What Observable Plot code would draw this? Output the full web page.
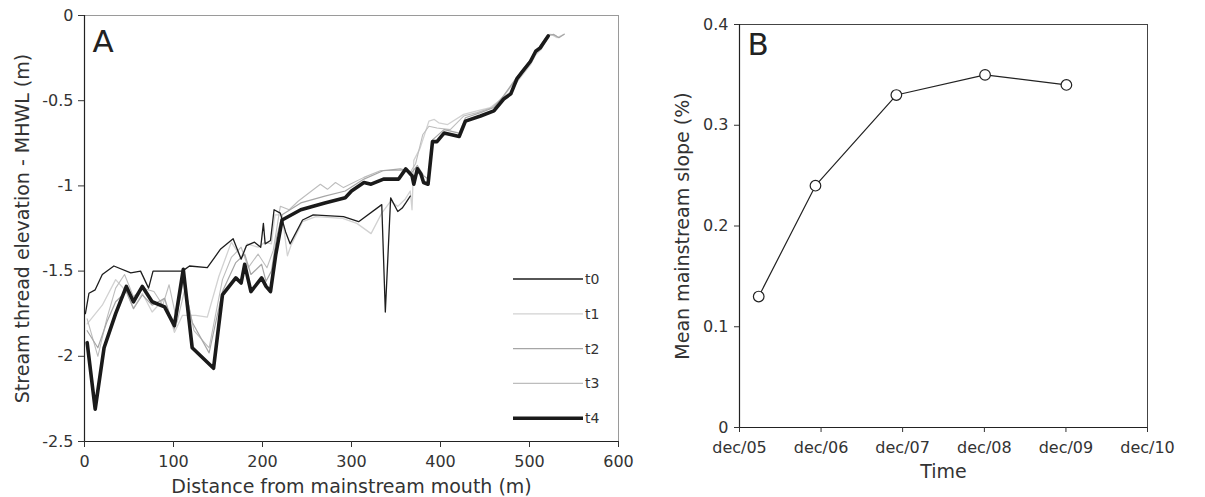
<!DOCTYPE html>
<html>
<head>
<meta charset="utf-8">
<script src="https://cdn.jsdelivr.net/npm/d3@7"></script>
<script src="https://cdn.jsdelivr.net/npm/@observablehq/plot@0.6"></script>
<style>
  html, body { margin: 0; padding: 0; background: #fff; }
  #wrap { position: relative; width: 1205px; height: 497px; overflow: hidden; font-family: "DejaVu Sans", sans-serif; }
  #wrap > svg, #wrap > div { position: absolute; top: 0; }
</style>
</head>
<body>
<div id="wrap"></div>
<script>
// ---------- Panel A data: distance (m), elevation (m) ----------
const t0 = [[1,-1.75],[5,-1.63],[12,-1.61],[20,-1.52],[33,-1.47],[52,-1.51],[63,-1.50],[72,-1.60],[77,-1.50],[110,-1.50],[118,-1.47],[138,-1.48],[153,-1.37],[167,-1.31],[176,-1.43],[182,-1.35],[191,-1.33],[198,-1.36],[201,-1.22],[203,-1.34],[209,-1.32],[213,-1.14],[220,-1.16],[226,-1.27],[231,-1.34],[245,-1.20],[257,-1.17],[291,-1.18],[308,-1.21],[334,-1.11],[338,-1.74],[344,-1.07],[352,-1.15],[357,-1.13],[361,-1.10],[366,-1.06]];
const t1 = [[3,-1.81],[20,-1.70],[35,-1.55],[47,-1.62],[55,-1.72],[65,-1.63],[76,-1.74],[90,-1.66],[101,-1.86],[110,-1.76],[125,-1.76],[138,-1.77],[151,-1.53],[165,-1.33],[176,-1.42],[183,-1.34],[195,-1.36],[203,-1.33],[210,-1.34],[214,-1.17],[222,-1.17],[228,-1.41],[232,-1.35],[245,-1.21],[260,-1.18],[290,-1.19],[306,-1.22],[322,-1.28],[334,-1.16],[344,-1.09],[352,-1.12],[360,-1.08],[366,-1.03],[368,-1.14],[370,-0.85],[377,-0.78],[387,-0.62],[393,-0.61],[398,-0.63],[408,-0.64],[426,-0.58],[441,-0.56],[456,-0.54],[466,-0.50],[478,-0.45],[486,-0.39],[492,-0.35],[501,-0.29],[507,-0.23],[513,-0.20],[520,-0.13],[524,-0.11],[531,-0.13],[539,-0.11]];
const t2 = [[3,-1.85],[15,-1.95],[25,-1.80],[35,-1.68],[47,-1.62],[55,-1.72],[65,-1.64],[76,-1.70],[90,-1.66],[101,-1.84],[111,-1.55],[121,-1.80],[140,-1.98],[155,-1.62],[170,-1.45],[180,-1.40],[187,-1.52],[199,-1.46],[204,-1.56],[210,-1.50],[216,-1.30],[222,-1.17],[243,-1.10],[270,-1.06],[293,-1.03],[314,-0.96],[336,-0.91],[355,-0.90],[368,-0.92],[374,-0.88],[381,-0.94],[386,-0.96],[391,-0.73],[404,-0.67],[421,-0.69],[428,-0.60],[445,-0.57],[460,-0.54],[471,-0.47],[486,-0.36],[492,-0.32],[501,-0.26],[507,-0.21],[512,-0.18],[520,-0.12],[527,-0.11],[533,-0.13],[539,-0.11]];
const t3 = [[3,-1.78],[15,-2.00],[25,-1.78],[35,-1.60],[45,-1.52],[55,-1.65],[65,-1.60],[78,-1.62],[88,-1.70],[95,-1.58],[104,-1.80],[113,-1.60],[123,-1.85],[140,-1.95],[155,-1.55],[165,-1.42],[176,-1.36],[184,-1.48],[195,-1.40],[205,-1.48],[212,-1.38],[220,-1.12],[230,-1.14],[240,-1.09],[265,-0.99],[273,-1.02],[282,-0.98],[291,-1.01],[314,-0.95],[333,-0.91],[355,-0.91],[366,-0.92],[372,-0.87],[380,-0.70],[387,-0.65],[396,-0.66],[411,-0.67],[426,-0.59],[441,-0.57],[458,-0.54],[470,-0.48],[486,-0.37],[495,-0.32],[507,-0.22],[515,-0.17],[522,-0.11],[530,-0.12]];
const t4 = [[3,-1.92],[12,-2.31],[22,-1.95],[35,-1.75],[47,-1.59],[55,-1.68],[65,-1.59],[76,-1.68],[90,-1.71],[101,-1.82],[111,-1.49],[121,-1.95],[145,-2.07],[155,-1.64],[170,-1.54],[176,-1.57],[180,-1.46],[187,-1.62],[199,-1.54],[204,-1.59],[209,-1.62],[215,-1.40],[222,-1.20],[243,-1.14],[270,-1.10],[293,-1.07],[300,-1.03],[314,-0.98],[322,-0.99],[336,-0.96],[353,-0.96],[361,-0.90],[368,-0.94],[370,-0.99],[374,-0.90],[378,-0.93],[381,-0.98],[386,-0.99],[391,-0.74],[396,-0.74],[404,-0.69],[421,-0.71],[428,-0.62],[445,-0.59],[460,-0.56],[471,-0.49],[479,-0.46],[486,-0.37],[492,-0.33],[501,-0.27],[507,-0.21],[512,-0.19],[521,-0.12]];
const seriesNames = ["t0","t1","t2","t3","t4"];
const xTicksA = [0,100,200,300,400,500,600];
const yTicksA = [0,-0.5,-1,-1.5,-2,-2.5];

// ---------- Panel B data ----------
const surveyDates = ["2006-02-25","2006-11-06","2007-11-03","2008-12-04","2009-12-03"];
const meanSlope = [0.13,0.24,0.33,0.35,0.34];
const xTickDatesB = ["2005-12-01","2006-12-01","2007-12-01","2008-12-01","2009-12-01","2010-12-01"];
const yTicksB = [0,0.1,0.2,0.3,0.4];

// ---------- styles ----------
const styleOf = {
  t0: {stroke:"#1e1e1e", strokeWidth:1.3},
  t1: {stroke:"#d2d2d2", strokeWidth:1.3},
  t2: {stroke:"#a6a6a6", strokeWidth:1.2},
  t3: {stroke:"#bdbdbd", strokeWidth:1.1},
  t4: {stroke:"#1a1a1a", strokeWidth:3.6}
};
const seriesData = {t0, t1, t2, t3, t4};
const drawOrder = ["t1","t3","t2","t0","t4"];
const txt = "#333";
const fam = "DejaVu Sans";

const wrap = document.getElementById("wrap");

// ---------- Panel A ----------
const plotA = Plot.plot({
  width: 640, height: 497,
  marginLeft: 84, marginRight: 22, marginTop: 15, marginBottom: 56,
  style: {fontFamily: fam, background: "transparent", overflow: "visible"},
  x: {domain: [0, 600]},
  y: {domain: [-2.5, 0]},
  marks: [
    Plot.frame({stroke: "#9a9a9a", strokeWidth: 1}),
    Plot.ruleX([0], {stroke: "#222", strokeWidth: 1.2}),
    Plot.ruleY([-2.5], {stroke: "#222", strokeWidth: 1.2}),
    Plot.axisX({ticks: xTicksA, tickSize: 6, tickPadding: 8, fontSize: 16, color: txt, label: null, tickFormat: d => String(d)}),
    Plot.axisY({ticks: yTicksA, tickSize: 6, tickPadding: 5, fontSize: 16, color: txt, label: null, tickFormat: d => String(d)}),
    ...drawOrder.map(k => Plot.line(seriesData[k], {x: d => d[0], y: d => d[1], ...styleOf[k], strokeLinejoin: "round"})),
    Plot.text(["A"], {frameAnchor: "top-left", dx: 8, dy: 14, fontSize: 31, textAnchor: "start", lineAnchor: "top", fill: "#222"}),
    Plot.text(["Distance from mainstream mouth (m)"], {frameAnchor: "bottom", dy: 51, fontSize: 19, fill: txt}),
    Plot.text(["Stream thread elevation - MHWL (m)"], {frameAnchor: "left", dx: -62, rotate: -90, textAnchor: "middle", fontSize: 19, fill: txt})
  ]
});
plotA.style.left = "0px";
wrap.appendChild(plotA);

// legend for panel A
const legend = d3.create("svg").attr("width", 110).attr("height", 170)
  .style("position", "absolute").style("left", "510px").style("top", "262px");
seriesNames.forEach((k, i) => {
  const y = 17 + i * 34.8;
  legend.append("line").attr("x1", 3).attr("x2", 73).attr("y1", y).attr("y2", y)
    .attr("stroke", styleOf[k].stroke).attr("stroke-width", styleOf[k].strokeWidth);
  legend.append("text").attr("x", 75).attr("y", y).attr("dy", "0.35em")
    .attr("font-family", fam).attr("font-size", 14).attr("fill", txt).text(k);
});
wrap.appendChild(legend.node());

// ---------- Panel B ----------
const parse = d3.utcParse("%Y-%m-%d");
const bData = surveyDates.map((d, i) => ({date: parse(d), slope: meanSlope[i]}));
const xTicksB = xTickDatesB.map(parse);
const plotB = Plot.plot({
  width: 565, height: 497,
  marginLeft: 99, marginRight: 58, marginTop: 24, marginBottom: 70,
  style: {fontFamily: fam, background: "transparent", overflow: "visible"},
  x: {type: "utc", domain: [xTicksB[0], xTicksB[xTicksB.length - 1]]},
  y: {domain: [0, 0.4]},
  marks: [
    Plot.frame({stroke: "#444", strokeWidth: 1}),
    Plot.ruleX([xTicksB[0]], {stroke: "#222", strokeWidth: 1.2}),
    Plot.ruleY([0], {stroke: "#222", strokeWidth: 1.2}),
    Plot.axisX({ticks: xTicksB, tickSize: 5, tickPadding: 9, fontSize: 16, color: txt, label: null, tickFormat: d3.utcFormat("dec/%y")}),
    Plot.axisY({ticks: yTicksB, tickSize: 5, tickPadding: 6, fontSize: 16, color: txt, label: null, tickFormat: d => d === 0 ? "0" : d.toFixed(1)}),
    Plot.line(bData, {x: "date", y: "slope", stroke: "#222", strokeWidth: 1.2}),
    Plot.dot(bData, {x: "date", y: "slope", r: 5.3, fill: "white", stroke: "#222", strokeWidth: 1.2}),
    Plot.text(["B"], {frameAnchor: "top-left", dx: 8, dy: 8, fontSize: 31, textAnchor: "start", lineAnchor: "top", fill: "#222"}),
    Plot.text(["Time"], {frameAnchor: "bottom", dy: 50, fontSize: 19, fill: txt}),
    Plot.text(["Mean mainstream slope (%)"], {frameAnchor: "left", dx: -57, rotate: -90, textAnchor: "middle", fontSize: 19, fill: txt})
  ]
});
plotB.style.left = "640px";
wrap.appendChild(plotB);
</script>
</body>
</html>
